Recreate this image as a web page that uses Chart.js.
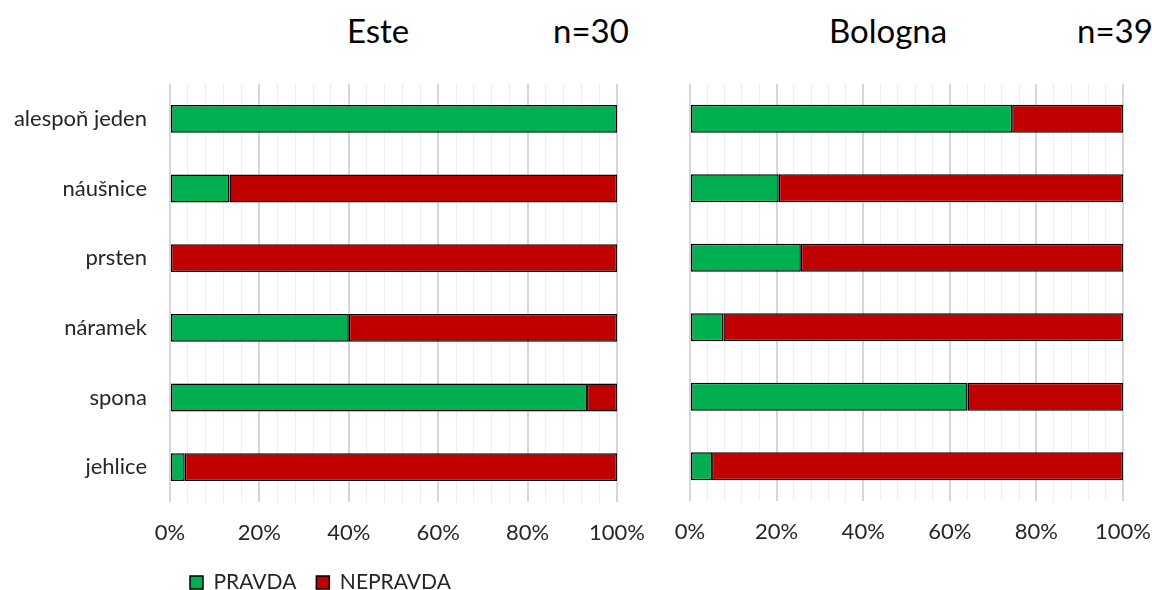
<!DOCTYPE html>
<html>
<head>
<meta charset="utf-8">
<script src="https://cdn.jsdelivr.net/npm/chart.js@4.4.1/dist/chart.umd.min.js"></script>
<style>
html, body { margin: 0; padding: 0; background: #fff; width: 1152px; height: 590px; overflow: hidden; }
.title { position: absolute; top: 14px; font-family: Lato, sans-serif; font-size: 33px; line-height: 33px; color: #000; white-space: nowrap; }
#leftChart { position: absolute; left: 0; top: 0; }
#rightChart { position: absolute; left: 650px; top: 0; }
</style>
</head>
<body>
<div class="title" style="left:347px">Este</div>
<div class="title" style="left:553px">n=30</div>
<div class="title" style="left:829px">Bologna</div>
<div class="title" style="left:1077px">n=39</div>
<canvas id="leftChart" width="680" height="603"></canvas>
<canvas id="rightChart" width="520" height="590"></canvas>
<script>
// Data (hodnoty v procentech)
var categories = ['alespoň jeden', 'náušnice', 'prsten', 'náramek', 'spona', 'jehlice'];
var seriesNames = ['PRAVDA', 'NEPRAVDA'];
var estePravda = [100, 13.3, 0, 40, 93.3, 3.3];
var esteNepravda = [0, 86.7, 100, 60, 6.7, 96.7];
var bolognaPravda = [74.4, 20.5, 25.6, 7.7, 64.1, 5.1];
var bolognaNepravda = [25.6, 79.5, 74.4, 92.3, 35.9, 94.9];
var tickLabels = [0, 20, 40, 60, 80, 100];

Chart.defaults.font.family = 'Lato, sans-serif';
Chart.defaults.font.size = 22;
Chart.defaults.color = '#262626';

// Mřížka: hlavní čáry po 20 %, vedlejší po 4 %
function isMajor(c) {
    return c.tick && tickLabels.indexOf(c.tick.value) !== -1;
}

function makeChart(id, pravda, nepravda, isLeft) {
    var ctx = document.getElementById(id).getContext('2d');
    return new Chart(ctx, {
        type: 'bar',
        data: {
            labels: categories,
            datasets: [{
                label: seriesNames[0],
                data: pravda,
                backgroundColor: '#00b050',
                borderColor: '#000',
                borderWidth: 1.5,
                borderSkipped: false,
                barPercentage: 0.4,
                categoryPercentage: 1
            }, {
                label: seriesNames[1],
                data: nepravda,
                backgroundColor: '#c00000',
                borderColor: '#000',
                borderWidth: 1.5,
                borderSkipped: false,
                barPercentage: 0.4,
                categoryPercentage: 1
            }]
        },
        options: {
            indexAxis: 'y',
            responsive: false,
            animation: false,
            layout: {
                padding: isLeft ? { left: 0, right: 63, top: 84, bottom: 0 }
                                : { left: 40, right: 47, top: 84, bottom: 39 }
            },
            plugins: {
                legend: {
                    display: isLeft,
                    position: 'bottom',
                    align: 'start',
                    fullSize: false,
                    labels: { boxWidth: 13, boxHeight: 13, padding: 20, color: '#262626', font: { size: 21 } }
                },
                tooltip: { enabled: false }
            },
            scales: {
                x: {
                    stacked: true,
                    min: 0,
                    max: 100,
                    border: { display: false },
                    grid: {
                        drawTicks: false,
                        color: function (c) { return isMajor(c) ? '#d6d6d6' : '#eeeeee'; },
                        lineWidth: function (c) { return isMajor(c) ? 2 : 1; }
                    },
                    ticks: {
                        stepSize: 4,
                        autoSkip: false,
                        maxRotation: 0,
                        padding: 18,
                        callback: function (v) { return tickLabels.indexOf(v) !== -1 ? v + '%' : ''; }
                    },
                    afterFit: function (s) { s.height = 50; }
                },
                y: {
                    stacked: true,
                    display: isLeft,
                    border: { display: false },
                    grid: { display: false, drawTicks: false },
                    ticks: { padding: 23 },
                    afterFit: function (s) { if (isLeft) s.width = 170; }
                }
            }
        }
    });
}

var esteChart = makeChart('leftChart', estePravda, esteNepravda, true);
var bolognaChart = makeChart('rightChart', bolognaPravda, bolognaNepravda, false);
</script>
</body>
</html>
